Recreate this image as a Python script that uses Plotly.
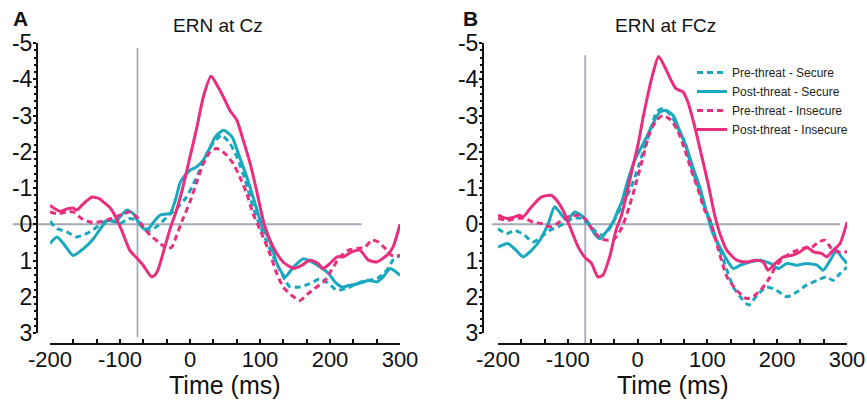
import numpy as np
import plotly.graph_objects as go

# ---------------- data (ERN waveforms, microvolts; y axis reversed) ----------------
series_names = ["Pre-threat - Secure", "Post-threat - Secure",
                "Pre-threat - Insecure", "Post-threat - Insecure"]

# Panel A : ERN at Cz
cz_pre_secure_t = [-200, -190, -176, -162, -148, -136, -124, -112, -100, -88, -76, -67, -57, -48, -38, -33,
                   -17, -5, 5, 14, 24, 33, 45, 57, 67, 79, 90, 100, 110, 119, 131, 136, 143, 157, 171, 186,
                   198, 210, 224, 238, 252, 267, 281, 290, 300]
cz_pre_secure_v = [-0.08, 0.12, 0.21, 0.35, 0.26, 0.12, -0.06, -0.11, -0.02, -0.16, -0.11, 0.07, 0.17, 0.07, -0.10, -0.20,
                   -0.48, -0.75, -1.12, -1.49, -1.95, -2.23, -2.46, -2.23, -1.86, -1.21, -0.48, 0.05, 0.50, 0.90, 1.36, 1.55, 1.73, 1.73, 1.64, 1.50,
                   1.64, 1.82, 1.77, 1.64, 1.55, 1.50, 1.27, 0.99, 0.86]

cz_post_secure_t = [-200, -190, -179, -167, -152, -138, -126, -117, -107, -100, -90, -81, -71, -62, -52, -43, -31, -28,
                    -21, -14, -7, 0, 9, 19, 29, 36, 48, 60, 69, 81, 93, 105, 112, 124, 129, 136, 148, 162, 174, 186,
                    198, 207, 217, 229, 240, 255, 267, 276, 286, 300]
cz_post_secure_v = [0.53, 0.35, 0.58, 0.86, 0.67, 0.40, 0.07, -0.11, -0.06, -0.20, -0.39, -0.29, 0.03, 0.17, -0.06, -0.25, -0.29, -0.30,
                    -0.66, -1.15, -1.35, -1.49, -1.58, -1.77, -2.13, -2.41, -2.59, -2.41, -1.95, -1.31, -0.57, 0.17, 0.35, 1.08, 1.27, 1.45, 1.18, 0.95, 1.04, 1.18,
                    1.36, 1.59, 1.73, 1.68, 1.64, 1.55, 1.59, 1.45, 1.22, 1.41]

cz_pre_insecure_t = [-200, -190, -176, -167, -155, -143, -131, -119, -107, -95, -86, -76, -67, -57, -45, -33, -26, -19,
                     -10, 0, 10, 19, 29, 38, 50, 62, 71, 81, 90, 100, 114, 124, 133, 145, 157, 169, 181, 193, 202,
                     214, 226, 238, 250, 260, 269, 279, 288, 300]
cz_pre_insecure_v = [-0.34, -0.29, -0.34, -0.34, -0.16, -0.06, -0.06, -0.11, -0.20, -0.29, -0.34, -0.20, 0.07, 0.30, 0.49, 0.67, 0.63, 0.30,
                     -0.15, -0.62, -1.18, -1.67, -2.00, -2.09, -1.95, -1.67, -1.31, -0.85, -0.29, 0.15, 0.81, 1.36, 1.73, 1.96, 2.10, 1.91, 1.73, 1.55, 1.27,
                     0.90, 0.72, 0.67, 0.63, 0.44, 0.49, 0.67, 0.86, 0.86]

cz_post_insecure_t = [-200, -186, -176, -167, -162, -152, -140, -129, -124, -114, -110, -98, -86, -76, -67, -55, -50, -45,
                      -36, -28, -19, -10, 0, 10, 19, 30, 40, 50, 57, 67, 76, 86, 95, 106, 119, 133, 148, 160, 171,
                      183, 190, 200, 210, 219, 231, 243, 255, 267, 281, 290, 300]
cz_post_insecure_v = [-0.52, -0.36, -0.42, -0.45, -0.39, -0.57, -0.75, -0.70, -0.62, -0.45, -0.34, 0.15, 0.72, 0.93, 1.13, 1.45, 1.40, 1.22,
                      0.63, 0.10, -0.40, -1.03, -1.86, -2.69, -3.51, -4.08, -3.79, -3.42, -3.14, -2.87, -2.32, -1.67, -0.94, 0.00, 0.63, 1.04, 1.22, 1.13, 0.99,
                      1.08, 1.22, 1.08, 0.90, 0.90, 0.76, 0.72, 0.99, 1.04, 0.86, 0.63, 0.00]

# Panel B : ERN at FCz
fcz_pre_secure_t = [-200, -188, -176, -162, -150, -138, -126, -114, -105, -93, -81, -69, -59, -50, -40, -31, -21, -9,
                    1, 10, 20, 27, 36, 48, 58, 68, 77, 87, 96, 104, 113, 123, 128, 137, 147, 159, 171, 185, 199,
                    214, 228, 242, 257, 271, 280, 290, 300]
fcz_pre_secure_v = [0.12, 0.26, 0.17, 0.30, 0.49, 0.35, 0.17, 0.07, -0.02, -0.16, -0.16, 0.03, 0.21, 0.30, 0.12, -0.20, -0.55, -1.03,
                    -1.58, -2.13, -2.68, -3.10, -3.19, -3.00, -2.64, -2.23, -1.58, -1.03, -0.48, -0.10, 0.44, 0.99, 1.27, 1.73, 2.00, 2.23, 1.96, 1.73, 1.82,
                    2.00, 1.87, 1.68, 1.55, 1.45, 1.55, 1.36, 1.18]

fcz_post_secure_t = [-200, -186, -174, -164, -152, -140, -128, -119, -112, -102, -90, -81, -71, -62, -54, -45, -35, -28,
                     -23, -14, -4, 3, 13, 22, 32, 41, 51, 60, 70, 79, 89, 98, 108, 118, 128, 137, 147, 161, 175,
                     190, 202, 214, 228, 242, 257, 266, 276, 285, 292, 300]
fcz_post_secure_v = [0.63, 0.53, 0.72, 0.90, 0.72, 0.44, -0.02, -0.48, -0.34, -0.11, -0.34, -0.25, -0.06, 0.26, 0.40, 0.21, -0.06, -0.39,
                     -0.60, -1.21, -1.77, -2.04, -2.41, -2.78, -3.10, -3.14, -3.00, -2.59, -2.13, -1.58, -1.03, -0.39, 0.26, 0.63, 0.99, 1.22, 1.13, 1.04, 0.99,
                     1.08, 1.22, 1.08, 1.13, 1.08, 1.13, 1.27, 0.99, 0.72, 0.90, 1.08]

fcz_pre_insecure_t = [-200, -186, -174, -162, -150, -138, -124, -112, -100, -88, -76, -64, -52, -42, -33, -22, -12, -3,
                      8, 17, 27, 36, 48, 58, 68, 77, 87, 96, 104, 116, 128, 142, 156, 168, 180, 190, 199, 211, 223,
                      237, 250, 259, 269, 276, 285, 300]
fcz_pre_insecure_v = [-0.16, -0.11, -0.16, -0.16, -0.06, -0.02, 0.07, -0.06, -0.20, -0.25, -0.16, 0.17, 0.40, 0.44, 0.40, 0.07, -0.48, -1.08,
                      -1.86, -2.50, -2.87, -3.00, -2.87, -2.55, -2.04, -1.49, -0.94, -0.39, -0.11, 0.72, 1.45, 1.82, 2.05, 1.96, 1.73, 1.45, 1.13, 0.90, 0.76,
                      0.67, 0.63, 0.49, 0.44, 0.63, 0.76, 0.76]

fcz_post_insecure_t = [-200, -188, -176, -169, -164, -152, -138, -124, -116, -107, -97, -85, -76, -66, -57, -50, -40, -31,
                       -23, -14, -7, 1, 8, 15, 22, 30, 39, 48, 55, 65, 72, 82, 91, 101, 110, 118, 128, 142, 156,
                       171, 180, 187, 197, 209, 221, 233, 242, 252, 264, 271, 280, 290, 300]
fcz_post_insecure_v = [-0.25, -0.16, -0.20, -0.25, -0.20, -0.48, -0.75, -0.80, -0.66, -0.39, 0.07, 0.63, 0.90, 1.08, 1.45, 1.41, 0.90, 0.17,
                       -0.25, -0.98, -1.58, -2.23, -2.96, -3.60, -4.16, -4.63, -4.34, -3.97, -3.74, -3.65, -3.37, -2.68, -1.95, -1.12, -0.29, 0.26, 0.72, 0.99, 1.04,
                       0.99, 1.04, 1.27, 1.08, 0.90, 0.86, 0.76, 0.63, 0.76, 0.81, 0.90, 0.72, 0.53, -0.06]

panel_titles = ["ERN at Cz", "ERN at FCz"]
panel_letters = ["A", "B"]
x_axis_title = "Time (ms)"

x_tick_vals = [-200, -100, 0, 100, 200, 300]
x_tick_text = ["-200", "-100", "0", "100", "200", "300"]
y_tick_vals = [-5, -4, -3, -2, -1, 0, 1, 2, 3]
y_tick_text = ["-5", "-4", "-3", "-2", "-1", "0", "1", "2", "3"]

# reference lines (time of vertical marker, baseline extents)
marker_time = -75
baseline_extent = [[-253, 245], [-209, 290]]
marker_extent = [[-4.86, 3.12], [-4.66, 3.28]]

# ---------------- styling ----------------
CYAN = "#1AA8BE"
MAGENTA = "#EA2E7E"
GRAY = "#A3AAB8"
FONT = "Liberation Sans, Arial, sans-serif"
W, H = 867, 400
X_RANGE = [-200, 300]
Y_RANGE = [3, -5]

colors = [CYAN, CYAN, MAGENTA, MAGENTA]
dashes = ["6px,4px", "solid", "6px,4px", "solid"]

panels = [
    dict(xa="x", ya="y", xdom=(50, 400), yax_px=37, title_x=218, letter_x=20,
         data=[(cz_pre_secure_t, cz_pre_secure_v), (cz_post_secure_t, cz_post_secure_v),
               (cz_pre_insecure_t, cz_pre_insecure_v), (cz_post_insecure_t, cz_post_insecure_v)]),
    dict(xa="x2", ya="y2", xdom=(498, 847), yax_px=483, title_x=665, letter_x=470,
         data=[(fcz_pre_secure_t, fcz_pre_secure_v), (fcz_post_secure_t, fcz_post_secure_v),
               (fcz_pre_insecure_t, fcz_pre_insecure_v), (fcz_post_insecure_t, fcz_post_insecure_v)]),
]

Y_DOM = [1 - 333 / H, 1 - 43 / H]
X_AXIS_POS = 1 - 344 / H

fig = go.Figure()

def xfrac(t):
    return (t - X_RANGE[0]) / (X_RANGE[1] - X_RANGE[0])

def yfrac(v):
    return (v - Y_RANGE[0]) / (Y_RANGE[1] - Y_RANGE[0])

minor_x = [v for v in np.arange(-200, 300.01, 100 / 3)]
minor_y = [round(v, 2) for v in np.arange(-5, 3.001, 0.2)]

shapes = []
annotations = []
for i, p in enumerate(panels):
    for k in range(4):
        t, v = p["data"][k]
        fig.add_trace(go.Scatter(
            x=t, y=v, xaxis=p["xa"], yaxis=p["ya"], mode="lines",
            name=series_names[k], showlegend=(i == 1),
            line=dict(color=colors[k], width=3, dash=dashes[k], shape="spline", smoothing=0.6),
        ))
    sfx = "" if i == 0 else str(i + 1)
    dom = [p["xdom"][0] / W, p["xdom"][1] / W]
    fig.update_layout(**{
        "xaxis" + sfx: dict(domain=dom, range=X_RANGE, anchor="free", position=X_AXIS_POS,
                            automargin=False, ticklabelstandoff=-4,
                            showgrid=False, zeroline=False, showline=True, linecolor="#111", linewidth=2,
                            ticks="inside", ticklen=4, tickwidth=1.5, tickcolor="#111",
                            tickvals=x_tick_vals, ticktext=x_tick_text,
                            tickfont=dict(size=22, color="#111", family=FONT),
                            minor=dict(tickmode="array", tickvals=minor_x, ticks="inside",
                                       ticklen=4, tickwidth=1.5, tickcolor="#111")),
        "yaxis" + sfx: dict(domain=Y_DOM, range=Y_RANGE, anchor="free", position=p["yax_px"] / W,
                            automargin=False, ticklabelstandoff=-4,
                            showgrid=False, zeroline=False, showline=True, linecolor="#111", linewidth=2,
                            ticks="outside", ticklen=3, tickwidth=1.5, tickcolor="#111",
                            tickvals=y_tick_vals, ticktext=y_tick_text,
                            tickfont=dict(size=23, color="#111", family=FONT),
                            minor=dict(tickmode="array", tickvals=minor_y, ticks="outside",
                                       ticklen=2, tickwidth=1.5, tickcolor="#111")),
    })
    xd = p["xa"] + " domain"
    yd = p["ya"] + " domain"
    bx = baseline_extent[i]
    shapes.append(dict(type="line", xref=xd, yref=yd, layer="below",
                       x0=xfrac(bx[0]), x1=xfrac(bx[1]), y0=yfrac(0), y1=yfrac(0),
                       line=dict(color=GRAY, width=1.8)))
    me = marker_extent[i]
    shapes.append(dict(type="line", xref=xd, yref=yd, layer="below",
                       x0=xfrac(marker_time), x1=xfrac(marker_time), y0=yfrac(me[0]), y1=yfrac(me[1]),
                       line=dict(color=GRAY, width=1.8)))
    cx = (p["xdom"][0] + p["xdom"][1]) / 2
    annotations.append(dict(text=panel_titles[i], xref="paper", yref="paper",
                            x=p["title_x"] / W, y=1 - 25 / H, xanchor="center", yanchor="middle",
                            showarrow=False, font=dict(size=19, color="#111", family=FONT)))
    annotations.append(dict(text="<b>" + panel_letters[i] + "</b>", xref="paper", yref="paper",
                            x=p["letter_x"] / W, y=1 - 18 / H, xanchor="center", yanchor="middle",
                            showarrow=False, font=dict(size=21, color="#111", family=FONT)))
    annotations.append(dict(text=x_axis_title, xref="paper", yref="paper",
                            x=cx / W, y=1 - 385 / H, xanchor="center", yanchor="middle",
                            showarrow=False, font=dict(size=25, color="#111", family=FONT)))

fig.update_layout(
    width=W, height=H, margin=dict(l=0, r=0, t=0, b=0, pad=0, autoexpand=False),
    paper_bgcolor="white", plot_bgcolor="white",
    font=dict(family=FONT, color="#111"),
    shapes=shapes, annotations=annotations,
    legend=dict(x=692 / W, y=1 - 58 / H, xanchor="left", yanchor="top",
                font=dict(size=12, color="#222", family=FONT), bgcolor="rgba(0,0,0,0)",
                tracegroupgap=0, itemwidth=30),
)

fig.write_html("out.html", config={"displayModeBar": False},
               post_script="document.body.style.margin='0';document.body.style.overflow='hidden';")
